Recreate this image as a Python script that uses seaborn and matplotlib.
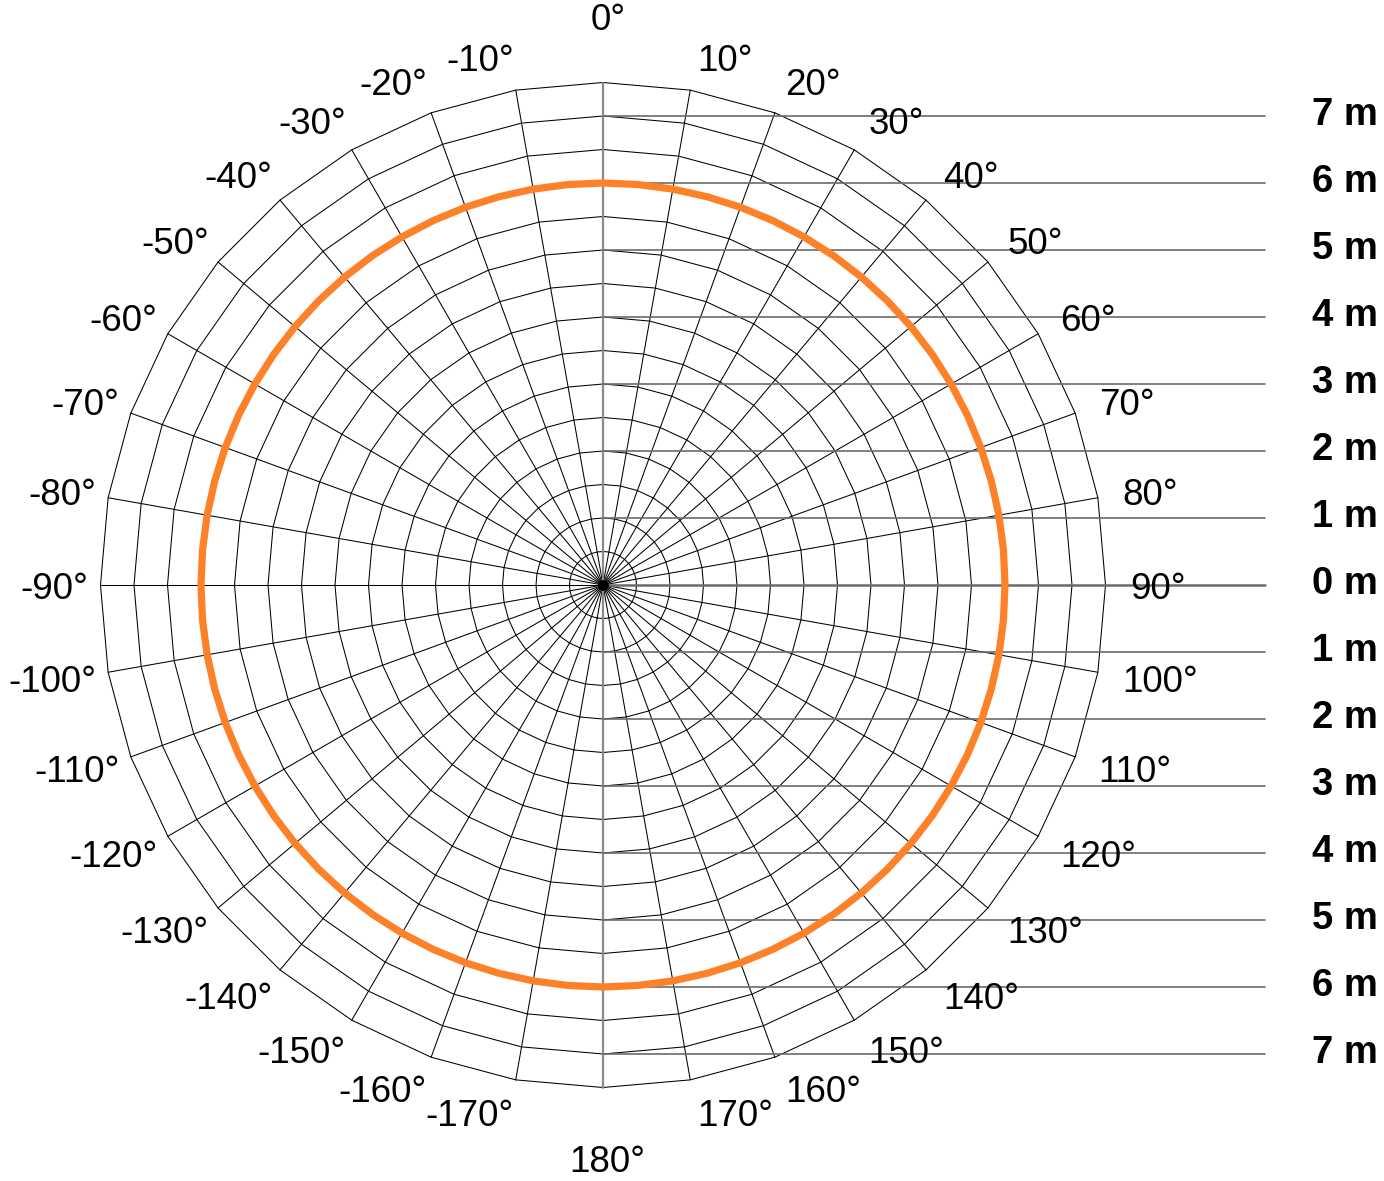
import numpy as np
import pandas as pd
import matplotlib
matplotlib.use("Agg")
import matplotlib.pyplot as plt
import seaborn as sns

# ---------------- data ----------------
ring_m = [0.5, 1.0, 1.5, 2.0, 2.5, 3.0, 3.5, 4.0, 4.5, 5.0, 5.5, 6.0, 6.5, 7.0, 7.5]
spoke_deg = [0, 10, 20, 30, 40, 50, 60, 70, 80, 90, 100, 110, 120, 130, 140, 150, 160, 170,
             180, -170, -160, -150, -140, -130, -120, -110, -100, -90, -80, -70, -60, -50,
             -40, -30, -20, -10]
angle_label_deg = [0, 10, 20, 30, 40, 50, 60, 70, 80, 90, 100, 110, 120, 130, 140, 150, 160,
                   170, 180, -10, -20, -30, -40, -50, -60, -70, -80, -90, -100, -110, -120,
                   -130, -140, -150, -160, -170]
distance_levels = [7, 6, 5, 4, 3, 2, 1, 0, -1, -2, -3, -4, -5, -6, -7]
distance_labels = ["7 m", "6 m", "5 m", "4 m", "3 m", "2 m", "1 m", "0 m",
                   "1 m", "2 m", "3 m", "4 m", "5 m", "6 m", "7 m"]

# coverage pattern read every 5 degrees
pattern_deg = [-180, -175, -170, -165, -160, -155, -150, -145, -140, -135, -130, -125,
               -120, -115, -110, -105, -100, -95, -90, -85, -80, -75, -70, -65, -60, -55,
               -50, -45, -40, -35, -30, -25, -20, -15, -10, -5, 0, 5, 10, 15, 20, 25, 30,
               35, 40, 45, 50, 55, 60, 65, 70, 75, 80, 85, 90, 95, 100, 105, 110, 115, 120,
               125, 130, 135, 140, 145, 150, 155, 160, 165, 170, 175, 180]
pattern_m = [6.0, 6.0, 6.0, 6.0, 6.0, 6.0, 6.0, 6.0, 6.0, 6.0, 6.0, 6.0,
             6.0, 6.0, 6.0, 6.0, 6.0, 6.0, 6.0, 6.0, 6.0, 6.0, 6.0, 6.0, 6.0, 6.0,
             6.0, 6.0, 6.0, 6.0, 6.0, 6.0, 6.0, 6.0, 6.0, 6.0, 6.0, 6.0, 6.0, 6.0, 6.0, 6.0, 6.0,
             6.0, 6.0, 6.0, 6.0, 6.0, 6.0, 6.0, 6.0, 6.0, 6.0, 6.0, 6.0, 6.0, 6.0, 6.0, 6.0, 6.0, 6.0,
             6.0, 6.0, 6.0, 6.0, 6.0, 6.0, 6.0, 6.0, 6.0, 6.0, 6.0, 6.0]

# ---------------- style ----------------
sns.set_theme(style="white")
plt.rcParams["font.family"] = ["Liberation Sans", "DejaVu Sans"]
plt.rcParams["text.color"] = "black"

W, H, DPI = 1384, 1181, 100
fig = plt.figure(figsize=(W / DPI, H / DPI), dpi=DPI)
ax = fig.add_axes([0, 0, 1, 1])
PX = 67.0            # pixels per metre
CX, CY = 603.0, 585.0
XLIM = (-CX / PX, (W - CX) / PX)
YLIM = (-(H - CY) / PX, CY / PX)


def xy(deg, r):
    t = np.deg2rad(np.asarray(deg, dtype=float))
    r = np.asarray(r, dtype=float)
    return r * np.sin(t), r * np.cos(t)


R_OUT = max(ring_m)
thin = 0.75

# polygonal rings through the spokes
ring_angles = sorted(spoke_deg) + [sorted(spoke_deg)[0]]
for r in ring_m:
    x, y = xy(ring_angles, [r] * len(ring_angles))
    ax.plot(x, y, color="black", lw=thin, zorder=2, solid_joinstyle="miter")

# spokes
for a in spoke_deg:
    if a in (0, 180):
        continue
    x, y = xy([a, a], [0, R_OUT])
    ax.plot(x, y, color="black", lw=thin, zorder=2)

# vertical 0/180 axis (grey, thicker)
x, y = xy([0, 180], [R_OUT, R_OUT])
ax.plot([x[0], x[1]], [y[0], y[1]], color="#8a8a8a", lw=1.6, zorder=3)

# horizontal distance lines + labels
LINE_END = (1265 - CX) / PX
LABEL_X = (1378 - CX) / PX
for lvl, lab in zip(distance_levels, distance_labels):
    ax.plot([0, LINE_END], [lvl, lvl], color="#6b6b6b", lw=1.2 if lvl else 1.8, zorder=3)
    ax.text(LABEL_X, lvl + 0.01, lab, ha="right", va="center", fontsize=27.5,
            fontweight="bold", color="black", zorder=5)

# angle labels
FS = 26.5
for a in angle_label_deg:
    s = np.sin(np.deg2rad(a))
    c = np.cos(np.deg2rad(a))
    txt = f"{a}°"
    if a == 0:
        ax.text(0.07, 8.42, txt, ha="center", va="center", fontsize=FS, zorder=5)
    elif a == 180:
        ax.text(0.07, -8.62, txt, ha="center", va="center", fontsize=FS, zorder=5)
    elif s > 0:
        ax.text(7.82 * s + 0.05, 8.0 * c - 0.06, txt, ha="left", va="center",
                fontsize=FS, zorder=5)
    else:
        ax.text(7.68 * s, 8.0 * c - 0.06, txt, ha="right", va="center",
                fontsize=FS, zorder=5)

# coverage pattern (orange)
px, py = xy(pattern_deg, pattern_m)
df = pd.DataFrame({"x": px, "y": py})
sns.lineplot(data=df, x="x", y="y", sort=False, color="#FD8128", lw=5.2,
             ax=ax, zorder=4, estimator=None)

# centre dot
ax.scatter([0], [0], s=60, color="black", zorder=6, linewidths=0)

ax.set_xlim(*XLIM)
ax.set_ylim(*YLIM)
ax.set_axis_off()

fig.savefig("out.png", dpi=DPI)
